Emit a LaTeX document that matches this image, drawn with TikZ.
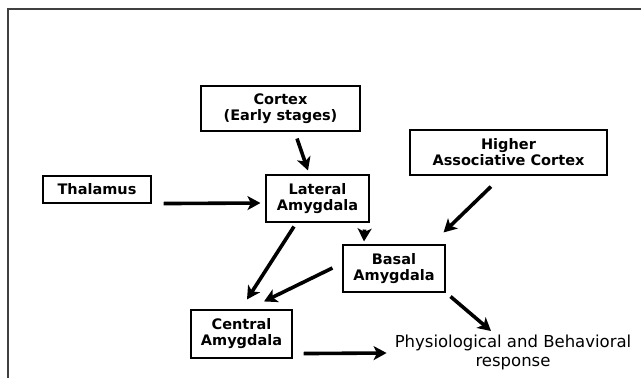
\documentclass[tikz,border=0pt]{standalone}
\usepackage{fontspec}
\setmainfont{DejaVu Sans}
\usetikzlibrary{arrows.meta,calc}
\begin{document}
\begin{tikzpicture}[x=1pt,y=-1pt,
  box/.style={draw=black,line width=1.1pt,inner sep=0pt,align=center,
    font=\bfseries\fontsize{14.5}{16}\selectfont},
  conn/.style={line width=3.6pt,-{Stealth[length=13pt,width=14pt,inset=3.5pt]}},
  frame/.style={draw=black!75,line width=2pt}]
\useasboundingbox (0,0) rectangle (641,378);
\draw[frame] (8,378) -- (8,9) -- (641,9);
\node[box,minimum width=159pt,minimum height=45pt] (cortex) at (280.5,108.5) {Cortex\\(Early stages)};
\node[box,minimum width=108pt,minimum height=27pt] (thal) at (97,189.5) {Thalamus};
\node[box,minimum width=103pt,minimum height=47pt] (lat) at (317.5,198.5) {Lateral\\Amygdala};
\node[box,minimum width=197pt,minimum height=45pt] (higher) at (508.5,152.5) {Higher\\Associative Cortex};
\node[box,minimum width=102pt,minimum height=47pt] (basal) at (394,268.5) {Basal\\Amygdala};
\node[box,minimum width=101pt,minimum height=48pt] (central) at (241.5,334) {Central\\Amygdala};
\node[inner sep=0pt,align=center,font=\fontsize{16.5}{19}\selectfont] (resp) at (513,352) {Physiological and Behavioral\\response};
\draw[conn] ($(cortex.south)+(16.5,7)$) -- ($(lat.north)+(-9.5,-4)$);
\draw[conn] ($(thal.south east)+(12,0)$) -- ($(lat.west)+(-5,4.5)$);
\draw[conn] ($(higher.south)+(-17.5,11)$) -- ($(basal.north east)+(-2,-12)$);
\draw[conn] ($(lat.south east)+(-5,7)$) -- ($(basal.north)+(-30,-3)$);
\draw[conn] ($(lat.south)+(-23.5,4)$) -- ($(central.north)+(5.5,-10)$);
\draw[conn] ($(basal.west)+(-10,-0.5)$) -- ($(central.north)+(22.5,-8)$);
\draw[conn] ($(basal.south east)+(5,4)$) -- ($(resp.center)+(-22,-21)$);
\draw[conn] ($(central.south east)+(11,-5)$) -- ($(resp.west)+(-8,1)$);
\end{tikzpicture}
\end{document}
